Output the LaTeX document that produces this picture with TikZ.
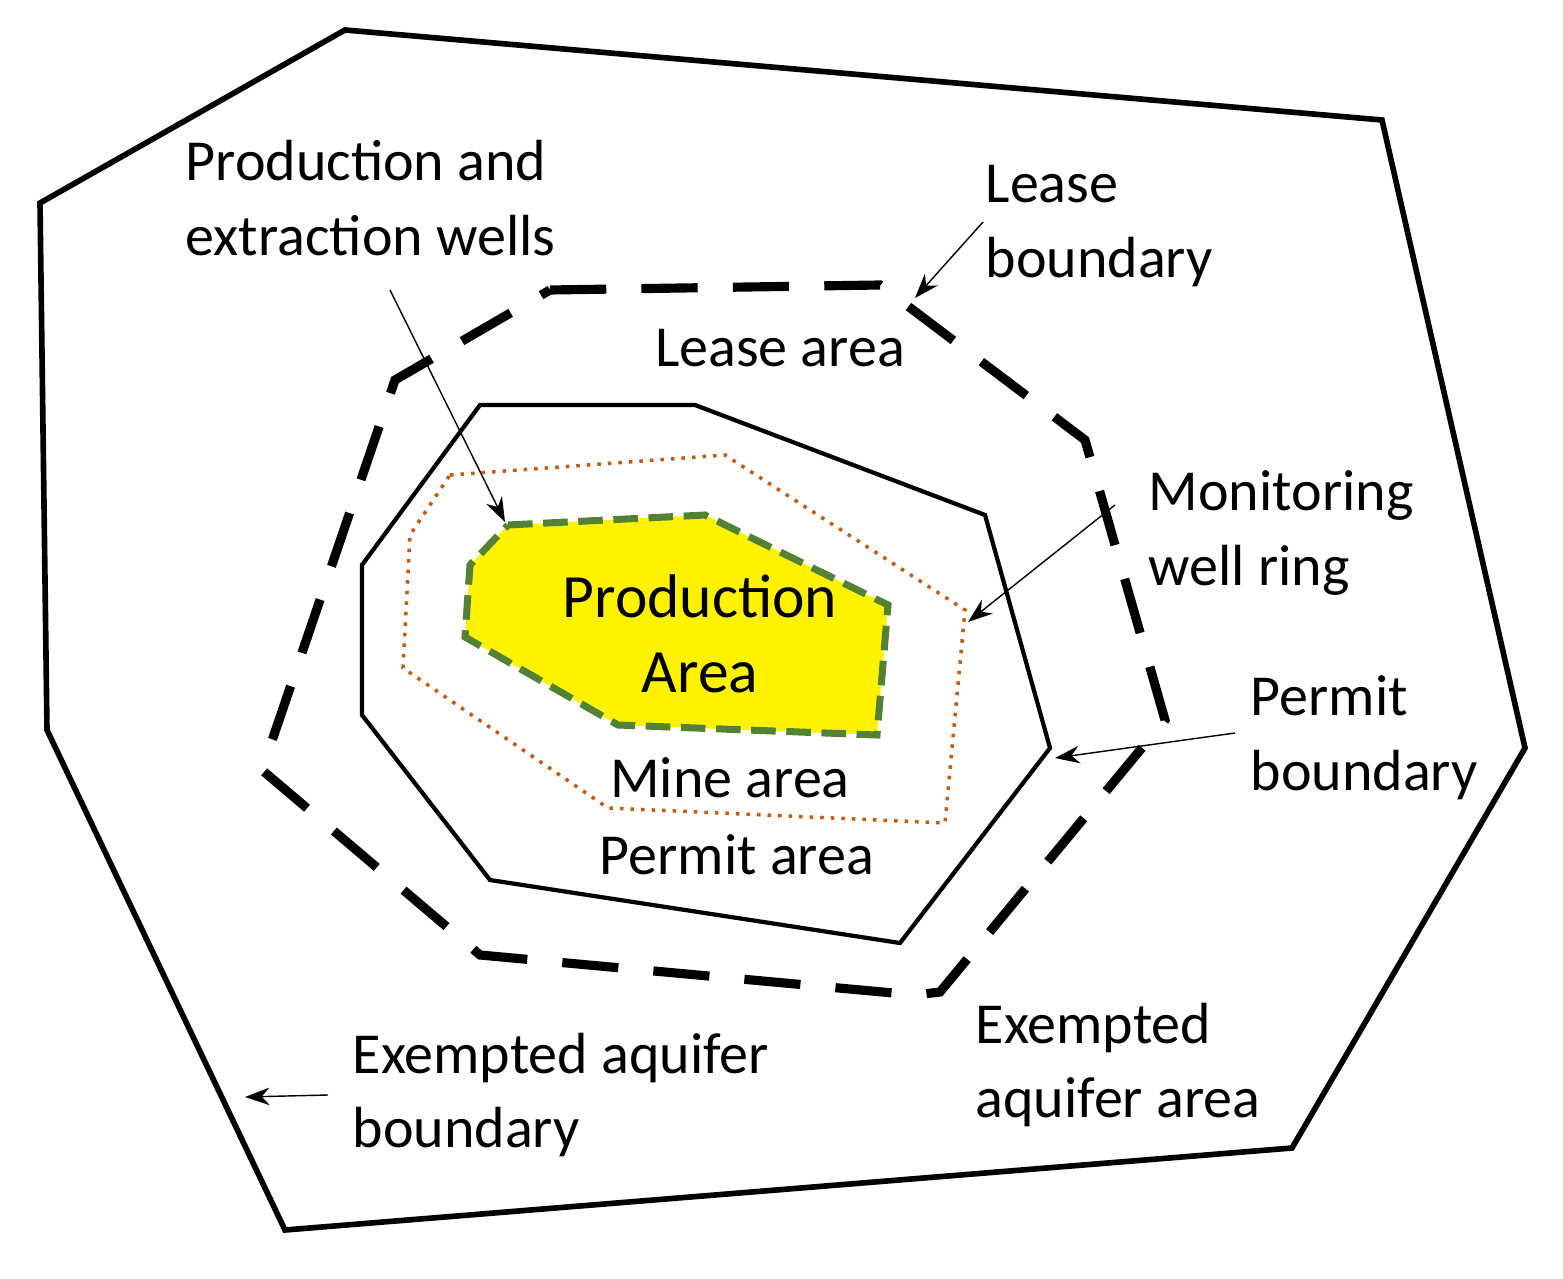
\documentclass[tikz,border=0pt]{standalone}
\usepackage{fontspec}
\setmainfont{Carlito}
\usetikzlibrary{arrows.meta}

\begin{document}
\begin{tikzpicture}[
  x=0.01cm, y=-0.01cm,
  lbl/.style={font=\fontsize{16.5}{21.3}\selectfont, inner sep=0pt, align=left},
  pnt/.style={-{Stealth[length=7pt,width=5pt]}, thin},
]

\useasboundingbox (0,0) rectangle (1563,1279);

% boundaries
\draw [line width=1.6pt, line join=miter] (345,30) -- (1382,120) -- (1525,748) -- (1292,1148) -- (285,1230) -- (47,730) -- (40,203) -- cycle;
\draw [line width=2.6pt, dash pattern=on 16pt off 10pt] (550,290) -- (880,285) -- (1085,440) -- (1165,720) -- (940,992) -- (915,995) -- (480,955) -- (262,770) -- (395,380) -- cycle;
\draw [line width=1.2pt] (480,405) -- (695,405) -- (985,515) -- (1050,748) -- (900,943) -- (490,880) -- (362,715) -- (362,565) -- cycle;
\draw [line width=1pt, dotted, color={rgb,255:red,197;green,90;blue,17}] (450,475) -- (725,455) -- (965,610) -- (945,823) -- (608,808) -- (403,668) -- (410,535) -- cycle;
\draw [line width=2pt, dash pattern=on 7pt off 3pt, fill=yellow, draw={rgb,255:red,84;green,130;blue,53}] (508,525) -- (705,515) -- (888,605) -- (877,735) -- (618,725) -- (465,637) -- (470,565) -- cycle;

% labels
\node [lbl, anchor=north west] (wells) at (185,140) {Production and\\extraction wells};
\node [lbl, anchor=north west] (lease) at (985,165) {Lease\\boundary};
\node [lbl] (leasearea) at (780,348) {Lease area};
\node [lbl, anchor=north west] (mon) at (1148,470) {Monitoring\\well ring};
\node [lbl, align=center, font=\fontsize{17.5}{21.3}\selectfont] (prod) at (700,634) {Production\\Area};
\node [lbl, anchor=north west] (permit) at (1250,675) {Permit\\boundary};
\node [lbl] (mine) at (730,778) {Mine area};
\node [lbl] (permitarea) at (737,855) {Permit area};
\node [lbl, anchor=north west] (exarea) at (975,1002) {Exempted\\aquifer area};
\node [lbl, anchor=north west] (exb) at (352,1032) {Exempted aquifer\\boundary};

% pointers
\coordinate (wellsend) at (505,522);
\coordinate (leaseend) at (915,298);
\coordinate (monend) at (968,622);
\coordinate (permitend) at (1055,758);
\coordinate (exbend) at (245,1097);
\draw [pnt] (390,290) -- (wellsend);
\draw [pnt] (983,222) -- (leaseend);
\draw [pnt] (1115,505) -- (monend);
\draw [pnt] (1235,733) -- (permitend);
\draw [pnt] (328,1095) -- (exbend);

\end{tikzpicture}
\end{document}
